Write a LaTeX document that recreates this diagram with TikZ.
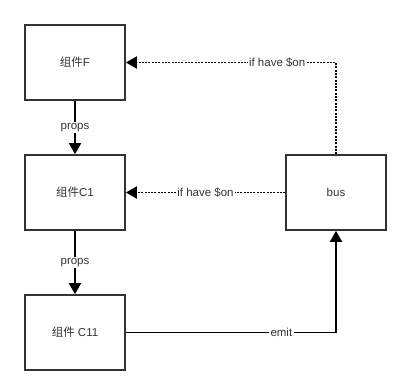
\documentclass[tikz,border=0pt]{standalone}
\usepackage{fontspec}
\setmainfont{Liberation Sans}
\newfontfamily\cjk{Noto Sans CJK SC}
\usetikzlibrary{arrows.meta}
\definecolor{ink}{HTML}{333333}
\begin{document}
\begin{tikzpicture}[x=1pt,y=-1pt,
  box/.style={draw=ink,line width=1.7pt,minimum width=100pt,minimum height=75pt,inner sep=0pt,text=ink,font=\fontsize{11.5}{13}\selectfont},
  solidline/.style={draw=black,line width=1.7pt,-{Triangle[length=11pt,width=12pt]}},
  dotline/.style={draw=black,line width=1.9pt,dash pattern=on 2pt off 1.3pt,-{Triangle[length=11pt,width=12pt]}},
  lbl/.style={fill=white,text=ink,inner sep=1.5pt,font=\fontsize{11.5}{13}\selectfont}]
\useasboundingbox (0,0) rectangle (401,389);
\node[box] (F) at (75,62.5) {{\cjk 组件}F};
\node[box] (C1) at (75,192.5) {{\cjk 组件}C1};
\node[box] (C11) at (75,332.5) {{\cjk 组件} C11};
\node[box] (bus) at (336,192.5) {bus};
\coordinate (tr) at (336,62.5);
\coordinate (br) at (336,332.5);
\draw[solidline] (F.south) -- node[lbl]{props} (C1.north);
\draw[solidline] (C1.south) -- node[lbl,pos=0.5]{props} (C11.north);
\draw[dotline] (bus.north) -- (tr) -- node[lbl,pos=0.28]{if have \$on} (F.east);
\draw[dotline] (bus.west) -- node[lbl]{if have \$on} (C1.east);
\draw[solidline] (C11.east) -- node[lbl,pos=0.74]{emit} (br) -- (bus.south);
\end{tikzpicture}
\end{document}
